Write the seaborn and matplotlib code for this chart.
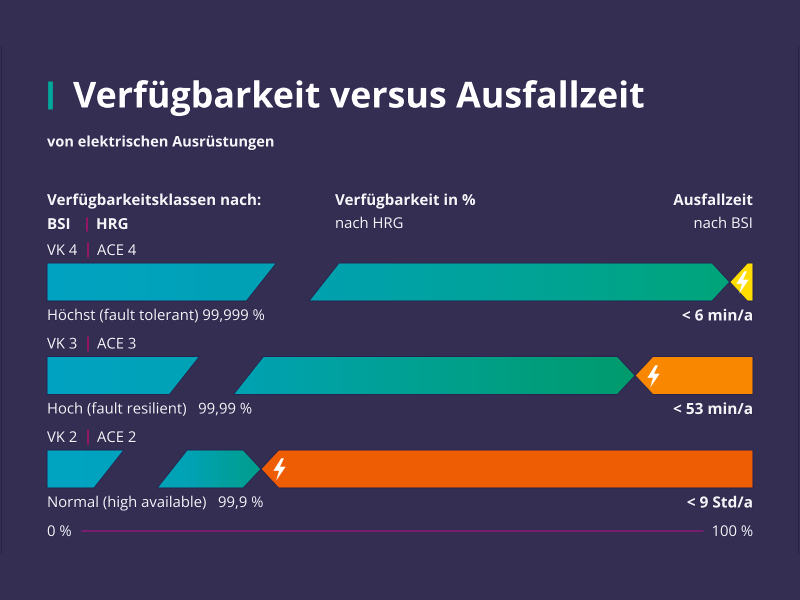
# plot.py
# Verfuegbarkeit versus Ausfallzeit - availability classes with downtime share.

import matplotlib
matplotlib.use("Agg")
import matplotlib.pyplot as plt
import matplotlib.patheffects as pe
from matplotlib.patches import Polygon
from matplotlib.path import Path
from matplotlib.transforms import Affine2D
import numpy as np
import seaborn as sns

# ----- data (percent of the scale) -----
classes = ["VK 4", "VK 3", "VK 2"]
ace_classes = ["ACE 4", "ACE 3", "ACE 2"]
scale_total = [100, 100, 100]
tip_pct = [96.7, 83.3, 30.3]
break_start_pct = [32.5, 21.6, 10.9]
break_end_pct = [37.1, 26.4, 15.6]
class_labels = ["Höchst (fault tolerant) 99,999 %", "Hoch (fault resilient)   99,99 %",
                "Normal (high available)   99,9 %"]
downtime_labels = ["< 6 min/a", "< 53 min/a", "< 9 Std/a"]
downtime_colors = ["#FFDD00", "#F98800", "#EE5C04"]
gradient_stops = [["#00A3C2", "#00A1B4", "#00A39A", "#00A57A"],
                  ["#00A3C2", "#00A2B2", "#00A08E", "#009B6C"],
                  ["#00A5C2", "#00A3BE", "#00A2B4", "#009E8C"]]

BG = "#352E53"
OUTLINE = "#28244F"
PINK = "#B0106E"

SLANT = 4.25     # break slant, percent
CHAMFER = 2.5    # tip chamfer, percent
BAR_H = 38 / 93.5

sns.set_theme(style="dark", rc={"axes.facecolor": BG, "figure.facecolor": BG})
plt.rcParams["font.family"] = ["Open Sans", "DejaVu Sans"]

fig = plt.figure(figsize=(8, 6), dpi=100)
ax = fig.add_axes([0, 0, 1, 1])

# downtime part: full-width bars, cut down to the arrow shape below
sns.barplot(y=classes, x=scale_total, hue=classes, palette=downtime_colors,
            width=BAR_H, legend=False, saturation=1, ax=ax)

xlim = ((0 - 47) / 7.06, (800 - 47) / 7.06)
ylim = ((600 - 282) / 93.5, -282 / 93.5)
top_edge, bottom_edge = -BAR_H / 2, BAR_H / 2

for row, bar in enumerate(ax.patches[:3]):
    tip = tip_pct[row]
    left_end = break_start_pct[row]
    right_start = break_end_pct[row]

    first = [(0, top_edge), (left_end, top_edge), (left_end - SLANT, bottom_edge), (0, bottom_edge)]
    second = [(right_start, bottom_edge), (right_start + SLANT, top_edge),
              (tip - CHAMFER, top_edge), (tip, 0), (tip - CHAMFER, bottom_edge)]
    outage = [(tip, 0), (tip + CHAMFER, top_edge), (100, top_edge),
              (100, bottom_edge), (tip + CHAMFER, bottom_edge)]
    first = [(x, y + row) for x, y in first]
    second = [(x, y + row) for x, y in second]
    outage = [(x, y + row) for x, y in outage]

    outage_patch = Polygon(outage, closed=True, fc="none", ec=OUTLINE, lw=0.7, zorder=4)
    ax.add_patch(outage_patch)
    bar.set_edgecolor("none")
    bar.set_clip_path(outage_patch)

    colors = np.array(sns.blend_palette(gradient_stops[row], n_colors=256))[:, :3]
    for shape in (first, second):
        patch = Polygon(shape, closed=True, fc="none", ec=OUTLINE, lw=0.7, zorder=4)
        ax.add_patch(patch)
        im = ax.imshow(colors[np.newaxis, :, :], extent=[0, tip, row + BAR_H / 2, row - BAR_H / 2],
                       aspect="auto", zorder=3)
        im.set_clip_path(patch)

# lightning icons
bolt = Path([(0.15, 1.0), (-0.55, -0.12), (-0.05, -0.12), (-0.3, -1.0),
             (0.55, 0.25), (0.05, 0.25), (0.4, 1.0), (0.15, 1.0)], closed=True)
bolt_offset = [1.75, 2.55, 2.55]
ax.scatter([t + o for t, o in zip(tip_pct, bolt_offset)], range(3), marker=bolt, s=260,
           c="white", linewidths=0, zorder=5)

ax.set_xlim(*xlim)
ax.set_ylim(*ylim)
ax.axis("off")

# text is laid out in reference pixels
px = Affine2D().scale(1, -1).translate(0, 600)
halo = [pe.withStroke(linewidth=0.7, foreground="#25214A")]


def put(x, y, s, size=10.7, weight="normal", ha="left", color="#F4F4F6"):
    return ax.text(x, y + 1.5, s, transform=px, fontsize=size, fontweight=weight, ha=ha, va="center",
                   color=color, path_effects=halo, zorder=6)


def pink_bar(x, y0, y1):
    ax.plot([x, x], [y0, y1], transform=px, color=PINK, lw=1.1, zorder=6)


ax.plot([49.5, 49.5], [81, 109], transform=px, color="#00A79A", lw=3.4, solid_capstyle="butt", zorder=6)
put(73, 97, "Verfügbarkeit versus Ausfallzeit", size=25.8, weight="bold", color="white")
put(47, 141, "von elektrischen Ausrüstungen", size=10.5, weight="bold")

put(47, 199.5, "Verfügbarkeitsklassen nach:", size=10.9, weight="bold")
put(335, 199.5, "Verfügbarkeit in %", size=10.9, weight="bold")
put(753, 199.5, "Ausfallzeit", size=10.9, weight="bold", ha="right")
put(47, 223.5, "BSI", size=10.9, weight="bold")
pink_bar(87, 218, 231)
put(96, 223.5, "HRG", size=10.9, weight="bold")
put(335, 223, "nach HRG")
put(753, 223, "nach BSI", ha="right")

for row, name in enumerate(classes):
    base = 250 + 93.5 * row
    put(47, base, name)
    pink_bar(88, base - 7, base + 7)
    put(97, base, ace_classes[row])
    put(47, base + 65, class_labels[row])
    put(753, base + 65, downtime_labels[row], weight="bold", size=11.1, ha="right")

put(47, 531, "0 %")
put(753, 531, "100 %", ha="right")
ax.plot([82, 703], [531, 531], transform=px, color="#8C1A78", lw=1.1, zorder=6)

# thin frame remains at both sides of the source image
for x in (1, 798):
    ax.plot([x, x], [46, 553], transform=px, color="#262347", lw=0.8, zorder=1)

fig.savefig("out.png", dpi=100, facecolor=BG)
